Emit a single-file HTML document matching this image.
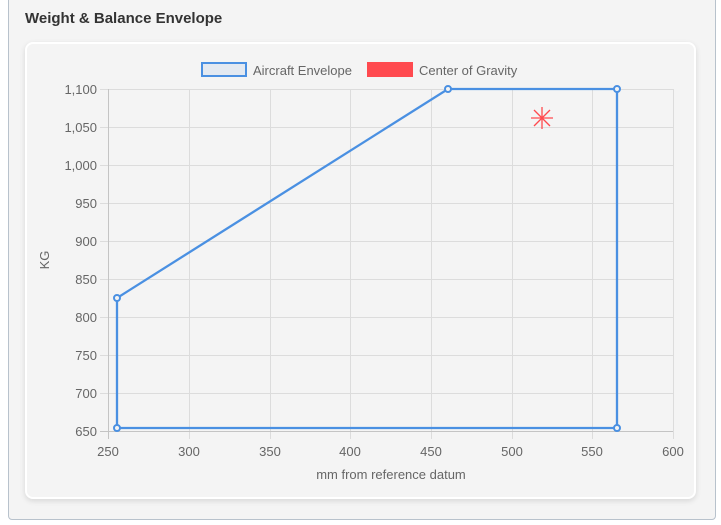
<!DOCTYPE html>
<html><head><style>
body{margin:0;width:721px;height:525px;background:#fff;font-family:"Liberation Sans",sans-serif;overflow:hidden}
.outer{position:absolute;left:8px;top:-4px;width:708px;height:524px;background:#f4f4f4;border:1px solid #b8c2cc;border-radius:4px;box-sizing:border-box}
.title{position:absolute;left:25px;top:10px;font-size:15px;font-weight:bold;color:#333}
.card{position:absolute;left:25px;top:42px;width:671px;height:457px;background:#f4f4f4;border:2px solid #fff;border-radius:8px;box-shadow:0 2px 6px rgba(0,0,0,.12);box-sizing:border-box}
svg{position:absolute;left:0;top:0}
</style></head><body>
<div class="outer"></div>
<div class="title">Weight &amp; Balance Envelope</div>
<div class="card"></div>
<svg width="721" height="525" font-family="Liberation Sans, sans-serif" font-size="13" fill="#666">
<g stroke="#dcdcdc" stroke-width="1">
<line x1="100" y1="89.5" x2="673" y2="89.5"/><line x1="100" y1="127.5" x2="673" y2="127.5"/><line x1="100" y1="165.5" x2="673" y2="165.5"/><line x1="100" y1="203.5" x2="673" y2="203.5"/><line x1="100" y1="241.5" x2="673" y2="241.5"/><line x1="100" y1="279.5" x2="673" y2="279.5"/><line x1="100" y1="317.5" x2="673" y2="317.5"/><line x1="100" y1="355.5" x2="673" y2="355.5"/><line x1="100" y1="393.5" x2="673" y2="393.5"/>
<line x1="189.5" y1="89" x2="189.5" y2="439"/><line x1="270.5" y1="89" x2="270.5" y2="439"/><line x1="350.5" y1="89" x2="350.5" y2="439"/><line x1="431.5" y1="89" x2="431.5" y2="439"/><line x1="512.5" y1="89" x2="512.5" y2="439"/><line x1="592.5" y1="89" x2="592.5" y2="439"/><line x1="673.5" y1="89" x2="673.5" y2="439"/>
</g>
<g stroke="#c4c4c4"><line x1="100" y1="431.5" x2="673" y2="431.5"/><line x1="108.5" y1="89" x2="108.5" y2="439"/></g>
<g text-anchor="end">
<text x="97" y="94">1,100</text><text x="97" y="132">1,050</text><text x="97" y="170">1,000</text><text x="97" y="208">950</text><text x="97" y="246">900</text><text x="97" y="284">850</text><text x="97" y="322">800</text><text x="97" y="360">750</text><text x="97" y="398">700</text><text x="97" y="436">650</text>
</g>
<g text-anchor="middle">
<text x="108" y="456">250</text><text x="189" y="456">300</text><text x="270" y="456">350</text><text x="350" y="456">400</text><text x="431" y="456">450</text><text x="512" y="456">500</text><text x="592" y="456">550</text><text x="673" y="456">600</text>
<text x="391" y="479">mm from reference datum</text>
<text transform="translate(49,260) rotate(-90)">KG</text>
</g>
<polygon points="117,428 117,298 448,89 617,89 617,428" fill="none" stroke="#4a90e2" stroke-width="2.3"/>
<g fill="#f4f4f4" stroke="#4a90e2" stroke-width="2">
<circle cx="117" cy="428" r="3"/><circle cx="117" cy="298" r="3"/><circle cx="448" cy="89" r="3"/><circle cx="617" cy="89" r="3"/><circle cx="617" cy="428" r="3"/></g>
<g stroke="#ff4a4f" stroke-width="1.3"><line x1="542" y1="107" x2="542" y2="129"/><line x1="531" y1="118" x2="553" y2="118"/><line x1="534" y1="110" x2="550" y2="126"/><line x1="534" y1="126" x2="550" y2="110"/></g>
<rect x="202" y="63" width="44" height="13" fill="#e3e9f1" stroke="#4a90e2" stroke-width="2"/>
<text x="253" y="75">Aircraft Envelope</text>
<rect x="367" y="62" width="46" height="15" fill="#ff4a4f"/>
<text x="419" y="75">Center of Gravity</text>
</svg>
</body></html>
